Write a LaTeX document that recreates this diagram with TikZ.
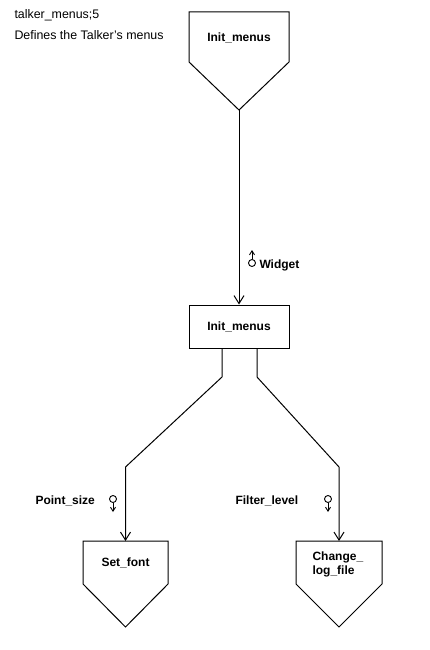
\documentclass[tikz,border=0pt]{standalone}
\usepackage{fontspec}
\setmainfont{Liberation Sans}
\usetikzlibrary{arrows.meta}
\begin{document}
\begin{tikzpicture}[x=1pt,y=-1pt,line width=1pt,
  lbl/.style={font=\fontsize{12}{14}\selectfont\bfseries,inner sep=0pt},
  plain/.style={font=\fontsize{12.4}{14}\selectfont,inner sep=0pt,anchor=west},
  shp/.style={draw=black,line width=1pt},
  conn/.style={draw=black,line width=1pt,-{Straight Barb[length=8pt,width=10pt,line width=1pt]}},
  flow/.style={line width=0.9pt,-{Straight Barb[length=4pt,width=5pt,line width=0.9pt]}}]
\useasboundingbox (0,0) rectangle (429,650);
% title
\node[plain] (t1) at (14,15) {talker\_menus;5};
\node[plain] (t2) at (14,35) {Defines the Talker’s menus};
% top pentagon
\draw[shp] (189,12) -- (289,12) -- (289,62) -- (239,110) -- (189,62) -- cycle;
\coordinate (p1) at (239,110);
\node[lbl] (init1) at (239,38) {Init\_menus};
% middle box
\node[shp,minimum width=100pt,minimum height=43pt,inner sep=0pt,lbl,draw] (init2) at (239,326.5) {Init\_menus};
% set_font pentagon
\draw[shp] (83,541) -- (168,541) -- (168,584) -- (125.5,627) -- (83,584) -- cycle;
\coordinate (sf) at (125.5,541);
\node[lbl] (setfont) at (125.5,563) {Set\_font};
% change_log_file pentagon
\draw[shp] (296,541) -- (382,541) -- (382,584) -- (339,627) -- (296,584) -- cycle;
\coordinate (cl) at (339,541);
\node[lbl,anchor=west] (chg1) at (312,557) {Change\_};
\node[lbl,anchor=west] (chg2) at (312,571) {log\_file};
% connectors
\draw[conn] (p1) -- (init2.north);
\coordinate (a1) at (222,377);
\coordinate (a2) at (125.5,467);
\coordinate (b1) at (257,377);
\coordinate (b2) at (339,467);
\draw[conn] (init2.south -| a1) -- (a1) -- (a2) -- (sf);
\draw[conn] (init2.south -| b1) -- (b1) -- (b2) -- (cl);
% data flow labels
\node[draw,circle,minimum size=7pt,inner sep=0pt,line width=0.9pt] (cw) at (252,263) {};
\coordinate (cwt) at (252,250);
\draw[flow] (cw.north) -- (cwt);
\node[lbl,anchor=west] (widget) at (259,265) {Widget};
\node[lbl,anchor=west] (ps) at (35,501) {Point\_size};
\node[draw,circle,minimum size=7pt,inner sep=0pt,line width=0.9pt] (cp) at (113,499) {};
\coordinate (cpb) at (113,512);
\draw[flow] (cp.south) -- (cpb);
\node[lbl,anchor=west] (fl) at (235,501) {Filter\_level};
\node[draw,circle,minimum size=7pt,inner sep=0pt,line width=0.9pt] (cf) at (328,499) {};
\coordinate (cfb) at (328,512);
\draw[flow] (cf.south) -- (cfb);
\end{tikzpicture}
\end{document}
